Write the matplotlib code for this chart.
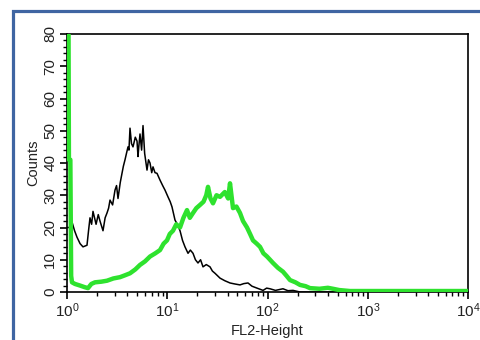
import matplotlib
matplotlib.use("Agg")
import matplotlib.pyplot as plt
from matplotlib.patches import Rectangle
from matplotlib.ticker import LogLocator, MultipleLocator

plt.rcParams['font.family'] = ['Liberation Sans', 'DejaVu Sans']
plt.rcParams['mathtext.fontset'] = 'custom'
plt.rcParams['mathtext.rm'] = 'Liberation Sans'

# control (black) histogram
ctrl_x = [1.0, 1.09, 1.122, 1.19, 1.258, 1.35, 1.444, 1.583, 1.64, 1.696, 1.76, 1.817,
          1.95, 2.05, 2.134, 2.286, 2.4, 2.506, 2.6, 2.686, 2.85, 3.012, 3.12, 3.227,
          3.4, 3.537, 3.65, 3.79, 3.92, 4.06, 4.15, 4.25, 4.4, 4.554, 4.8, 4.993,
          5.109, 5.2, 5.349, 5.55, 5.731, 5.95, 6.281, 6.5, 6.73, 7.0, 7.211, 7.55,
          7.904, 8.468, 9.0, 9.497, 10.17, 10.7, 11.15, 11.95, 12.6, 13.41, 14.2,
          15.03, 16.11, 17.0, 18.07, 19.1, 20.26, 21.5, 22.73, 24.5, 26.7, 28.2,
          29.95, 33.6, 37.5, 42.26, 47.0, 53.18, 58.0, 63.91, 70.0, 78.6, 90.3,
          98.0, 105.9, 120.0, 142.7, 160.0, 179.7, 210.9, 10000]
ctrl_y = [20, 20, 21.7, 19, 17, 15, 14, 14.5, 19, 23, 21, 25,
          21, 24, 22, 19, 23, 24.5, 26, 28.5, 27, 31.6, 33, 29,
          34, 36.8, 39, 41, 43, 45, 44, 50.8, 46, 45, 48, 46.8,
          42, 45, 49, 44, 51.6, 43, 37.8, 41, 40, 37, 38.8, 37,
          36.8, 34.7, 33, 31.6, 29.5, 28, 26.4, 22.3, 21, 19, 16,
          14, 12, 13, 12, 10, 9, 10, 7.8, 8.5, 7.8, 6.5,
          5.8, 4.3, 3.5, 2.8, 2.5, 2.2, 2.6, 2.8, 1.8, 1.2, 0.5,
          1.2, 1.0, 0.5, 1.0, 0.4, 0.5, 0, 0]

# stained (green) histogram
stain_x = [1.0, 1.035, 1.045, 1.08, 1.1, 1.122, 1.2, 1.348, 1.5, 1.62, 1.75, 1.902,
           2.2, 2.506, 2.9, 3.378, 3.8, 4.25, 4.8, 5.349, 6.0, 6.73, 7.6, 8.468,
           9.2, 9.94, 10.6, 11.41, 12.3, 13.41, 14.5, 15.74, 16.8, 18.07, 19.5,
           21.22, 23.0, 24.5, 25.5, 27.0, 28.6, 31.0, 33.6, 37.5, 40.5, 42.26,
           45.28, 49.0, 53.18, 57.0, 62.46, 67.0, 71.69, 78.0, 84.2, 91.0, 98.9,
           106.0, 113.5, 127.0, 142.7, 155.0, 167.7, 190.0, 210.9, 240.0, 265.5,
           330.0, 400.0, 450.1, 520.0, 665, 10000]
stain_y = [85, 85, 41, 41, 5, 3, 2.5, 2, 1.5, 1.2, 2.5, 3,
           3.2, 3.5, 4.2, 4.6, 5.2, 5.8, 7.0, 8.4, 9.5, 11, 12, 13,
           15, 16, 18, 19, 21, 20, 23, 25.4, 23, 24.5, 26,
           27, 28, 30, 32.6, 29, 27.5, 30, 29.5, 31, 29, 33.7,
           26, 26.5, 24.5, 22, 20, 18, 16, 15, 14, 12, 11,
           10, 9, 7.5, 6.3, 5, 3.7, 3, 2.2, 1.8, 1.2,
           1.0, 1.3, 1, 0.6, 0.3, 0.3]

fig = plt.figure(figsize=(4.81, 3.40), dpi=100)
fig.patch.set_facecolor('white')

# blue frame round the panel
fig.patches.append(Rectangle((12.5 / 481, -0.1), 1.2, 1 - 10.5 / 340 + 0.1,
                             transform=fig.transFigure, fill=False,
                             edgecolor='#3f65a2', linewidth=2.3))

ax = fig.add_axes([67 / 481, 1 - 292 / 340, 401 / 481, 258 / 340])
ax.plot(ctrl_x, ctrl_y, color='black', linewidth=1.1, zorder=2)
ax.plot(stain_x, stain_y, color='#2ee22e', linewidth=3.2, zorder=3)

ax.set_xscale('log')
ax.set_xlim(1, 10000)
ax.set_ylim(0, 80)
ax.xaxis.set_major_locator(LogLocator(base=10, numticks=10))
ax.xaxis.set_minor_locator(LogLocator(base=10, subs=range(2, 10), numticks=20))
ax.yaxis.set_major_locator(MultipleLocator(10))
ax.yaxis.set_minor_locator(MultipleLocator(2))

for s in ax.spines.values():
    s.set_linewidth(1.2)
ax.tick_params(which='major', length=5, width=1.2, labelsize=11, colors='black',
               labelcolor='#222222', pad=2)
ax.tick_params(which='minor', length=3, width=1.0)
for lab in ax.get_yticklabels():
    lab.set_rotation(90)
    lab.set_va('center')

ax.set_ylabel('Counts', fontsize=10.5, color='#222222', labelpad=2)
ax.set_xlabel('FL2-Height', fontsize=10.5, color='#222222', labelpad=3)

fig.savefig('out.png', dpi=100)
